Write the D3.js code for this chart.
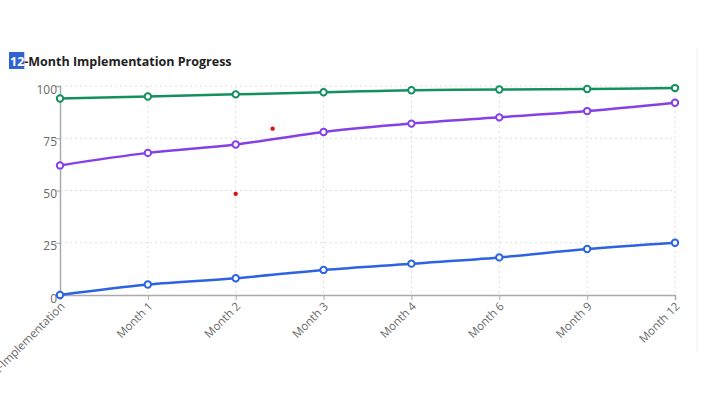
<!DOCTYPE html>
<html>
<head>
<meta charset="utf-8">
<script src="https://cdn.jsdelivr.net/npm/d3@7"></script>
<style>
  body { margin: 0; background: #fff; }
  .grid line { stroke: #ddd; stroke-dasharray: 2,3; }
  .axis text { fill: #6a6a6a; font-family: "Open Sans", sans-serif; }
  .axis path, .axis line { stroke: #aaa; }
</style>
</head>
<body>
<div id="chart"></div>
<script>
const stages = ['Pre-Implementation', 'Month 1', 'Month 2', 'Month 3', 'Month 4', 'Month 6', 'Month 9', 'Month 12'];
const green_values = [94, 95, 96, 97, 98, 98.3, 98.6, 99];
const purple_values = [62, 68, 72, 78, 82, 85, 88, 92];
const blue_values = [0, 5, 8, 12, 15, 18, 22, 25];
const y_ticks = [0, 25, 50, 75, 100];
// stray red dots: [stage index, value]
const red_dots = [[2, 48.4], [2.42, 79.6]];

const series = [
  { values: green_values, color: '#14905f' },
  { values: purple_values, color: '#8540e6' },
  { values: blue_values, color: '#2c63e3' }
];

const svg_width = 704, svg_height = 400;
const margin = { top: 86, right: 29, bottom: 105, left: 60 },
  width = svg_width - margin.left - margin.right,
  height = svg_height - margin.top - margin.bottom;

const root = d3.select('#chart')
  .append('svg')
  .attr('width', svg_width)
  .attr('height', svg_height);

// faint container edge on the right
root.append('line')
  .attr('x1', 697).attr('x2', 697)
  .attr('y1', 48).attr('y2', 352)
  .attr('stroke', '#f0f0f0');

// title, "12" looks selected
const title = root.append('text')
  .attr('x', 10)
  .attr('y', 66)
  .style('font-family', '"Open Sans", sans-serif')
  .style('font-weight', 'bold')
  .style('font-size', '12.5px')
  .attr('fill', '#222');
title.append('tspan').attr('class', 'sel').attr('fill', '#fff').text('12');
title.append('tspan').text('-Month Implementation Progress');
const sel = title.select('.sel').node().getBBox();
root.insert('rect', 'text')
  .attr('x', sel.x - 1)
  .attr('y', 52)
  .attr('width', sel.width + 1)
  .attr('height', 17)
  .attr('fill', '#2f63cf');

const svg = root.append('g')
  .attr('transform', 'translate(' + margin.left + ',' + margin.top + ')');

const x_scale = d3.scaleLinear()
  .domain([0, stages.length - 1])
  .range([0, width]);
const y_scale = d3.scaleLinear()
  .domain([0, 100])
  .range([height, 0]);

// grid
svg.append('g')
  .attr('class', 'grid')
  .selectAll('line.h')
  .data(y_ticks.filter(d => d > 0))
  .enter()
  .append('line')
  .attr('x1', 0).attr('x2', width)
  .attr('y1', d => y_scale(d)).attr('y2', d => y_scale(d));
svg.select('.grid')
  .selectAll('line.v')
  .data(stages.slice(1))
  .enter()
  .append('line')
  .attr('x1', (d, i) => x_scale(i + 1)).attr('x2', (d, i) => x_scale(i + 1))
  .attr('y1', 0).attr('y2', height);

// axes
svg.append('g')
  .attr('class', 'axis')
  .attr('transform', 'translate(0,' + height + ')')
  .call(d3.axisBottom(x_scale)
    .tickValues(d3.range(stages.length))
    .tickFormat(i => stages[i])
    .tickSizeOuter(0)
    .tickSize(5))
  .selectAll('text')
  .style('font-size', '11.5px')
  .style('text-anchor', 'end')
  .attr('dx', '-5px')
  .attr('dy', '4px')
  .attr('transform', 'rotate(-45)');

svg.append('g')
  .attr('class', 'axis')
  .call(d3.axisLeft(y_scale)
    .tickValues(y_ticks)
    .tickSize(5)
    .tickSizeOuter(5))
  .selectAll('text')
  .style('font-size', '12px')
  .attr('x', -3)
  .attr('dy', '0.6em');

svg.selectAll('.axis path').attr('stroke-width', 1.5);

// lines
const line = d3.line()
  .x((d, i) => x_scale(i))
  .y(d => y_scale(d))
  .curve(d3.curveMonotoneX);

series.forEach(function (s) {
  svg.append('path')
    .datum(s.values)
    .attr('d', line)
    .attr('fill', 'none')
    .attr('stroke', s.color)
    .attr('stroke-width', 2.5);

  svg.append('g')
    .selectAll('circle')
    .data(s.values)
    .enter()
    .append('circle')
    .attr('cx', (d, i) => x_scale(i))
    .attr('cy', d => y_scale(d))
    .attr('r', 3.2)
    .attr('fill', '#fff')
    .attr('stroke', s.color)
    .attr('stroke-width', 2);
});

svg.append('g')
  .selectAll('circle')
  .data(red_dots)
  .enter()
  .append('circle')
  .attr('cx', d => x_scale(d[0]))
  .attr('cy', d => y_scale(d[1]))
  .attr('r', 2.2)
  .attr('fill', '#e01010');
</script>
</body>
</html>
